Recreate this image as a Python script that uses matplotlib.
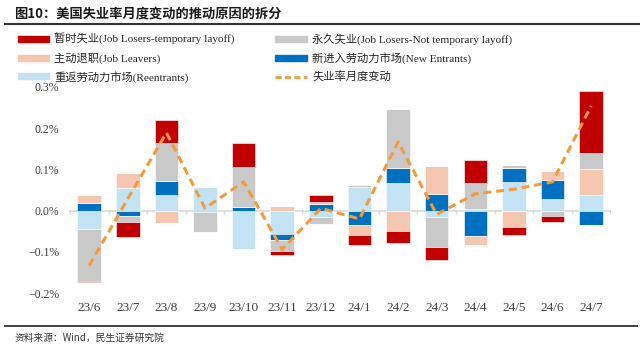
import numpy as np
import matplotlib
matplotlib.use('Agg')
import matplotlib.pyplot as plt
from matplotlib.patches import Patch
from matplotlib.lines import Line2D

plt.rcParams['font.family'] = ['Liberation Serif', 'Noto Sans CJK SC']
plt.rcParams['axes.unicode_minus'] = True

# Monthly contributions to the change in the US unemployment rate (%)
months = ['23/6', '23/7', '23/8', '23/9', '23/10', '23/11', '23/12',
          '24/1', '24/2', '24/3', '24/4', '24/5', '24/6', '24/7']
temporary = [-0.003, -0.036, 0.055, 0.0, 0.057, -0.009, 0.017,
             -0.024, -0.029, -0.030, 0.057, -0.020, -0.015, 0.149]
permanent = [-0.125, -0.016, 0.091, -0.048, 0.096, -0.028, -0.018,
             0.006, 0.143, -0.074, 0.064, 0.008, -0.012, 0.039]
leavers = [0.020, 0.036, -0.030, -0.002, 0.0, 0.012, 0.005,
           -0.024, -0.050, 0.069, -0.021, -0.040, 0.022, 0.062]
new_entrants = [0.019, -0.012, 0.035, -0.002, 0.010, -0.013, 0.017,
                -0.034, 0.036, 0.040, -0.062, 0.033, 0.047, -0.035]
reentrants = [-0.045, 0.055, 0.038, 0.057, -0.093, -0.057, -0.015,
              0.057, 0.067, -0.015, 0.003, 0.070, 0.028, 0.039]
monthly_change = [-0.133, 0.029, 0.189, 0.006, 0.070, -0.094, 0.006,
                  -0.020, 0.167, -0.009, 0.041, 0.052, 0.070, 0.254]

labels = {
    'temp': '暂时失业(Job Losers-temporary layoff)',
    'perm': '永久失业(Job Losers-Not temporary layoff)',
    'leave': '主动退职(Job Leavers)',
    'new': '新进入劳动力市场(New Entrants)',
    're': '重返劳动力市场(Reentrants)',
    'line': '失业率月度变动',
}
colors = {
    'temp': '#C00000',
    'perm': '#C9C9C9',
    'leave': '#F5C6B0',
    'new': '#0070C0',
    're': '#C3E3F4',
}
line_color = '#F39B3C'

fig = plt.figure(figsize=(6.4, 3.52), dpi=100)
ax = fig.add_axes([0.108, 0.167, 0.847, 0.586])

x = np.arange(len(months))
# stacking order from zero outwards
series = [('re', reentrants), ('new', new_entrants), ('leave', leavers),
          ('perm', permanent), ('temp', temporary)]
pos_base = np.zeros(len(months))
neg_base = np.zeros(len(months))
for key, vals in series:
    v = np.array(vals)
    pos = np.where(v > 0, v, 0)
    neg = np.where(v < 0, v, 0)
    ax.bar(x, pos, bottom=pos_base, width=0.61, color=colors[key],
           edgecolor='white', linewidth=0.4, zorder=2)
    ax.bar(x, neg, bottom=neg_base, width=0.61, color=colors[key],
           edgecolor='white', linewidth=0.4, zorder=2)
    pos_base += pos
    neg_base += neg

ax.axhline(0, color='#D9D9D9', lw=1.2, zorder=1)
# small ticks between categories on the zero line
ax.vlines(np.arange(len(months) + 1) - 0.5, -0.007, 0, color='#D9D9D9', lw=1.0, zorder=1)

ax.plot(x, monthly_change, color=line_color, lw=2.2, dashes=(2.6, 1.6), zorder=3)

ax.set_xlim(-0.52, len(months) - 0.48)
ax.set_ylim(-0.2, 0.3)
yt = [-0.2, -0.1, 0.0, 0.1, 0.2, 0.3]
ax.set_yticks(yt)
ax.set_yticklabels([('{:.1f}%'.format(t)).replace('-', '−') for t in yt])
ax.set_xticks(x)
ax.set_xticklabels(months)
ax.tick_params(axis='both', length=0, labelsize=9, colors='#404040')
ax.tick_params(axis='y', pad=7, labelsize=8.5)
ax.tick_params(axis='x', pad=6, labelsize=9.5)
for s in ax.spines.values():
    s.set_visible(False)

handles = [
    Patch(color=colors['temp'], label=labels['temp']),
    Patch(color=colors['leave'], label=labels['leave']),
    Patch(color=colors['re'], label=labels['re']),
    Patch(color=colors['perm'], label=labels['perm']),
    Patch(color=colors['new'], label=labels['new']),
    Line2D([0], [0], color=line_color, lw=2, dashes=(2.2, 1.2), label=labels['line']),
]
leg = fig.legend(handles=handles, ncol=2, loc='upper left',
                 bbox_to_anchor=(0.028, 0.905), frameon=False, fontsize=8.1,
                 handlelength=2.8, handleheight=0.45, handletextpad=0.45,
                 columnspacing=3.6, labelspacing=0.62, borderpad=0, borderaxespad=0)
for t in leg.get_texts():
    t.set_color('#262626')

fig.text(0.022, 0.962, '图10：美国失业率月度变动的推动原因的拆分', family=['Noto Sans CJK SC'],
         fontsize=9.5, fontweight='bold', color='#1a1a1a', va='center', ha='left')
fig.add_artist(Line2D([0.008, 1.0], [0.931, 0.931], transform=fig.transFigure,
                      color='#333333', lw=1.5))
fig.add_artist(Line2D([0.008, 0.995], [0.075, 0.075], transform=fig.transFigure,
                      color='#333333', lw=1.3))
fig.text(0.022, 0.040, '资料来源：Wind，民生证券研究院', family=['Noto Sans CJK SC'],
         fontsize=7.0, color='#333333', va='center', ha='left')

fig.savefig('out.png', dpi=100)
